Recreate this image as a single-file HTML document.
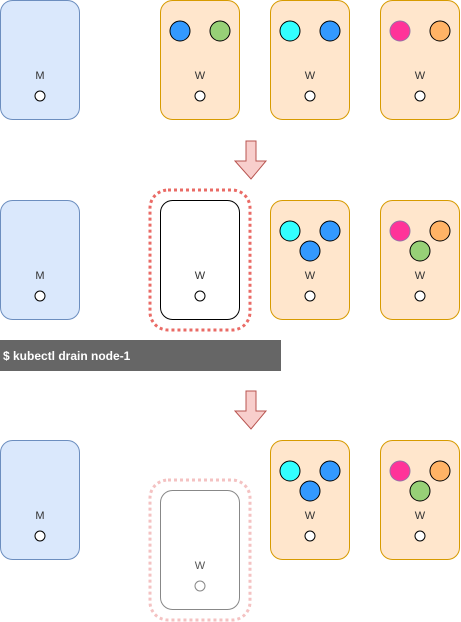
<!DOCTYPE html>
<html><head><meta charset="utf-8"><style>
html,body{margin:0;padding:0;background:#fff;width:461px;height:622px;overflow:hidden}
svg{display:block}
text{font-family:"Liberation Sans",sans-serif}
</style></head><body>
<svg width="461" height="622" viewBox="0 0 461 622">
<defs>
<g id="m"><rect x="0.5" y="0.5" width="79" height="119" rx="12" fill="#dae8fc" stroke="#6c8ebf"/></g>
</defs>
<!-- Row 1 -->
<g><rect x="0.5" y="0.5" width="79" height="119" rx="12" fill="#dae8fc" stroke="#6c8ebf"/><text x="40" y="79" text-anchor="middle" font-size="11" fill="#333">M</text><circle cx="40" cy="96" r="5" fill="#fff" stroke="#000"/></g>
<g><rect x="160.5" y="0.5" width="79" height="119" rx="12" fill="#ffe6cc" stroke="#d79b00"/><text x="200" y="79" text-anchor="middle" font-size="11" fill="#333">W</text><circle cx="200" cy="96" r="5" fill="#fff" stroke="#000"/>
<circle cx="180" cy="31" r="10" fill="#3399ff" stroke="#000"/><circle cx="220" cy="31" r="10" fill="#97d077" stroke="#000"/></g>
<g><rect x="270.5" y="0.5" width="79" height="119" rx="12" fill="#ffe6cc" stroke="#d79b00"/><text x="310" y="79" text-anchor="middle" font-size="11" fill="#333">W</text><circle cx="310" cy="96" r="5" fill="#fff" stroke="#000"/>
<circle cx="290" cy="31" r="10" fill="#33ffff" stroke="#000"/><circle cx="330" cy="31" r="10" fill="#3399ff" stroke="#000"/></g>
<g><rect x="380.5" y="0.5" width="79" height="119" rx="12" fill="#ffe6cc" stroke="#d79b00"/><text x="420" y="79" text-anchor="middle" font-size="11" fill="#333">W</text><circle cx="420" cy="96" r="5" fill="#fff" stroke="#000"/>
<circle cx="400" cy="31" r="10" fill="#ff3399" stroke="#9673a6"/><circle cx="440" cy="31" r="10" fill="#ffb366" stroke="#000"/></g>
<path d="M246,141 H256 V161 H266 L251,179 L235,161 H246 Z" fill="#f8cecc" stroke="#b85450"/>
<!-- Row 2 -->
<g><rect x="0.5" y="200.5" width="79" height="119" rx="12" fill="#dae8fc" stroke="#6c8ebf"/><text x="40" y="279" text-anchor="middle" font-size="11" fill="#333">M</text><circle cx="40" cy="296" r="5" fill="#fff" stroke="#000"/></g>
<rect x="150" y="190" width="100" height="140" rx="18" fill="none" stroke="#ea6b66" stroke-width="3" stroke-dasharray="3,3"/>
<g><rect x="160.5" y="200.5" width="79" height="119" rx="12" fill="#fff" stroke="#000"/><text x="200" y="279" text-anchor="middle" font-size="11" fill="#333">W</text><circle cx="200" cy="296" r="5" fill="#fff" stroke="#000"/></g>
<g><rect x="270.5" y="200.5" width="79" height="119" rx="12" fill="#ffe6cc" stroke="#d79b00"/><text x="310" y="279" text-anchor="middle" font-size="11" fill="#333">W</text><circle cx="310" cy="296" r="5" fill="#fff" stroke="#000"/>
<circle cx="290" cy="231" r="10" fill="#33ffff" stroke="#000"/><circle cx="330" cy="231" r="10" fill="#3399ff" stroke="#000"/><circle cx="310" cy="251" r="10" fill="#3399ff" stroke="#000"/></g>
<g><rect x="380.5" y="200.5" width="79" height="119" rx="12" fill="#ffe6cc" stroke="#d79b00"/><text x="420" y="279" text-anchor="middle" font-size="11" fill="#333">W</text><circle cx="420" cy="296" r="5" fill="#fff" stroke="#000"/>
<circle cx="400" cy="231" r="10" fill="#ff3399" stroke="#9673a6"/><circle cx="440" cy="231" r="10" fill="#ffb366" stroke="#000"/><circle cx="420" cy="251" r="10" fill="#97d077" stroke="#000"/></g>
<g><rect x="0" y="340" width="281" height="31" fill="#666"/><text x="3" y="360" font-size="12" font-weight="bold" fill="#fff">$ kubectl drain node-1</text></g>
<path d="M246,391 H256 V411 H266 L251,429 L235,411 H246 Z" fill="#f8cecc" stroke="#b85450"/>
<!-- Row 3 -->
<g><rect x="0.5" y="440.5" width="79" height="119" rx="12" fill="#dae8fc" stroke="#6c8ebf"/><text x="40" y="519" text-anchor="middle" font-size="11" fill="#333">M</text><circle cx="40" cy="536" r="5" fill="#fff" stroke="#000"/></g>
<rect x="150" y="480" width="100" height="140" rx="18" fill="none" stroke="#f4c2c2" stroke-width="3" stroke-dasharray="3,3"/>
<g><rect x="160.5" y="490.5" width="79" height="119" rx="12" fill="#fff" stroke="#888"/><text x="200" y="569" text-anchor="middle" font-size="11" fill="#555">W</text><circle cx="200" cy="586" r="5" fill="#fff" stroke="#888"/></g>
<g><rect x="270.5" y="440.5" width="79" height="119" rx="12" fill="#ffe6cc" stroke="#d79b00"/><text x="310" y="519" text-anchor="middle" font-size="11" fill="#333">W</text><circle cx="310" cy="536" r="5" fill="#fff" stroke="#000"/>
<circle cx="290" cy="471" r="10" fill="#33ffff" stroke="#000"/><circle cx="330" cy="471" r="10" fill="#3399ff" stroke="#000"/><circle cx="310" cy="491" r="10" fill="#3399ff" stroke="#000"/></g>
<g><rect x="380.5" y="440.5" width="79" height="119" rx="12" fill="#ffe6cc" stroke="#d79b00"/><text x="420" y="519" text-anchor="middle" font-size="11" fill="#333">W</text><circle cx="420" cy="536" r="5" fill="#fff" stroke="#000"/>
<circle cx="400" cy="471" r="10" fill="#ff3399" stroke="#9673a6"/><circle cx="440" cy="471" r="10" fill="#ffb366" stroke="#000"/><circle cx="420" cy="491" r="10" fill="#97d077" stroke="#000"/></g>
</svg>
</body></html>
